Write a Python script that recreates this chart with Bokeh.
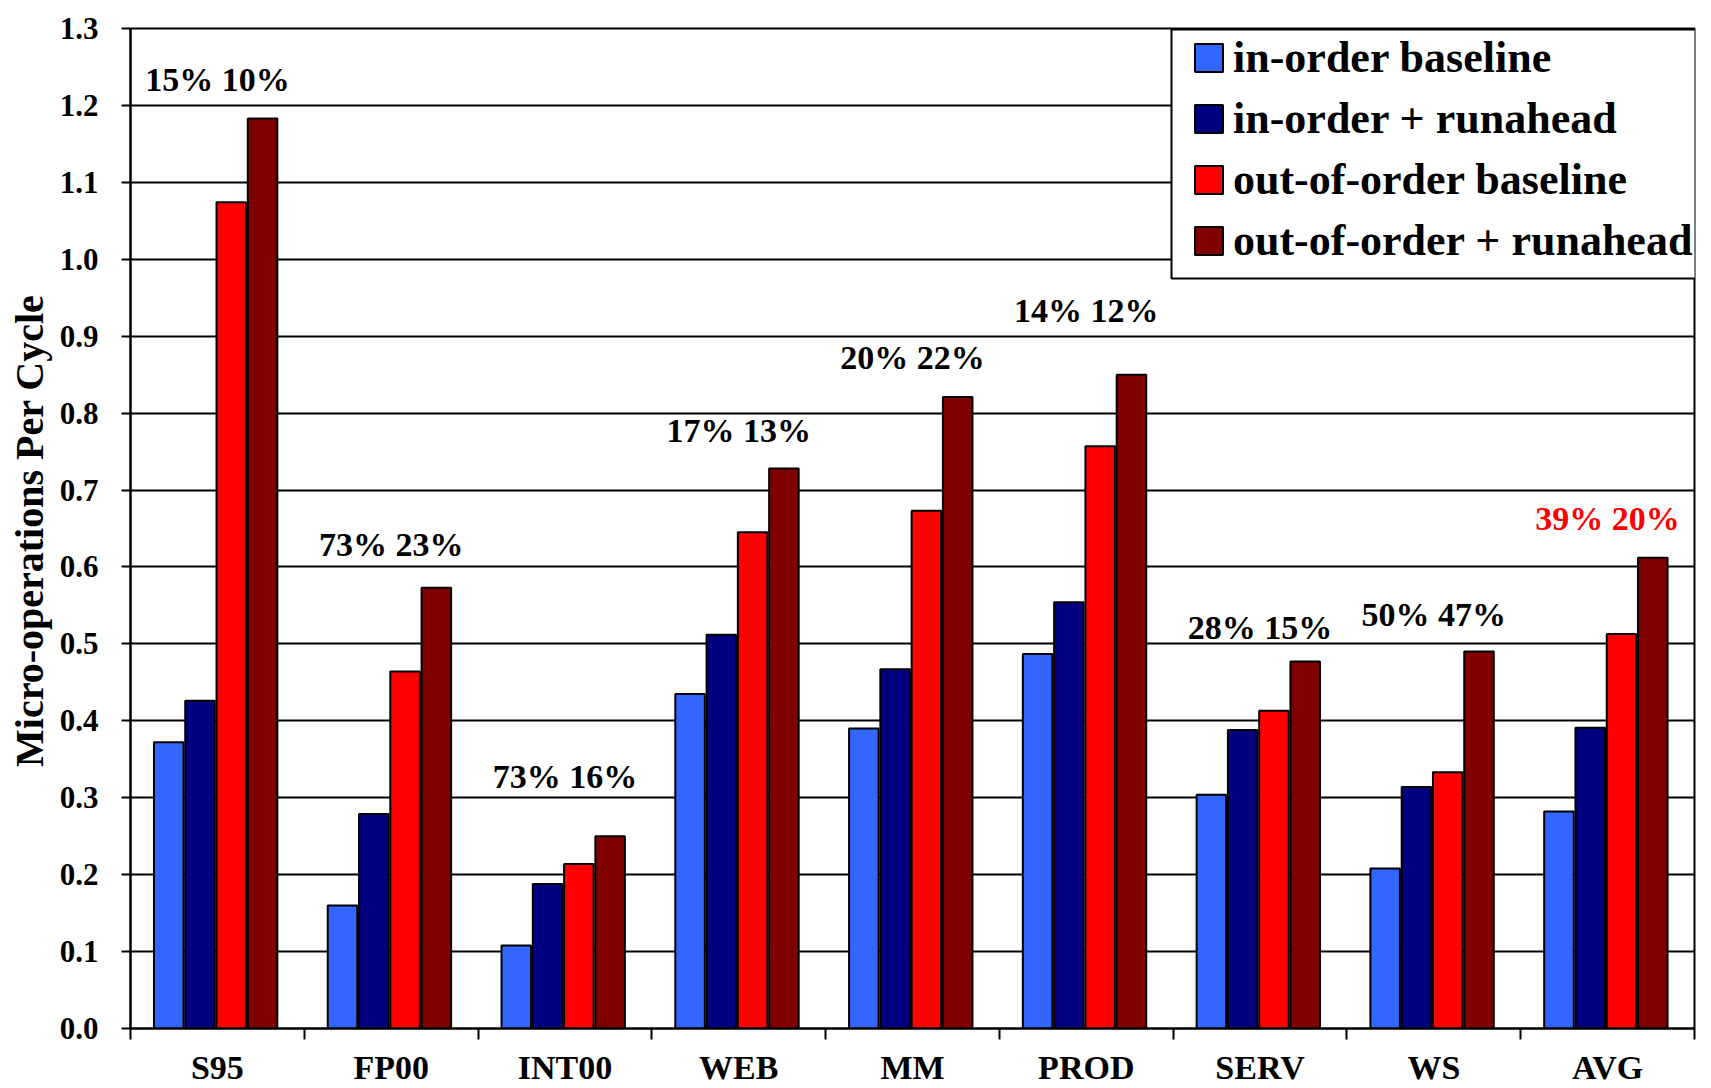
from bokeh.plotting import figure
from bokeh.models import (ColumnDataSource, Range1d, FixedTicker, NumeralTickFormatter,
                          Legend, LegendItem, LabelSet, BoxAnnotation, Title)
from bokeh.transform import dodge
from bokeh.embed import file_html
from bokeh.resources import INLINE
from bokeh.core.properties import value

# ---------------- data ----------------
categories = ["S95", "FP00", "INT00", "WEB", "MM", "PROD", "SERV", "WS", "AVG"]
series_names = ["in-order baseline", "in-order + runahead",
                "out-of-order baseline", "out-of-order + runahead"]
inorder_base = [0.372, 0.160, 0.108, 0.435, 0.390, 0.487, 0.304, 0.208, 0.282]
inorder_ra = [0.426, 0.279, 0.188, 0.512, 0.467, 0.554, 0.388, 0.314, 0.391]
ooo_base = [1.074, 0.464, 0.214, 0.645, 0.673, 0.757, 0.413, 0.333, 0.513]
ooo_ra = [1.183, 0.573, 0.250, 0.728, 0.821, 0.850, 0.477, 0.490, 0.612]
inorder_gain = ["15%", "73%", "73%", "17%", "20%", "14%", "28%", "50%", "39%"]
ooo_gain = ["10%", "23%", "16%", "13%", "22%", "12%", "15%", "47%", "20%"]
y_ticks = [0.0, 0.1, 0.2, 0.3, 0.4, 0.5, 0.6, 0.7, 0.8, 0.9, 1.0, 1.1, 1.2, 1.3]

# annotation placement (label baselines, in axis units) and colours
gain_label_y = [1.219, 0.614, 0.313, 0.762, 0.857, 0.918, 0.507, 0.523, 0.648]
gain_label_color = ["black"] * 8 + ["#FF0000"]
series_colors = ["#3366FF", "#000080", "#FF0000", "#800000"]
bar_offsets = [-0.28, -0.10, 0.08, 0.26]

FONT = "Liberation Serif"

idx = list(range(len(categories)))
src = ColumnDataSource(dict(x=idx, ib=inorder_base, ir=inorder_ra, ob=ooo_base, orr=ooo_ra))

p = figure(width=1711, height=1088,
           x_range=Range1d(-0.5, len(categories) - 0.5), y_range=Range1d(0, 1.3),
           output_backend="svg", toolbar_location=None,
           min_border_left=130, min_border_right=17, min_border_top=28, min_border_bottom=60)
p.background_fill_color = "white"
p.border_fill_color = "white"
p.outline_line_color = "black"
p.outline_line_width = 2
p.outline_line_alpha = 1

p.xgrid.visible = False
p.ygrid.ticker = FixedTicker(ticks=y_ticks)
p.ygrid.grid_line_color = "black"
p.ygrid.grid_line_width = 1.8
p.ygrid.grid_line_alpha = 1

# y axis
p.yaxis.ticker = FixedTicker(ticks=y_ticks)
p.yaxis.formatter = NumeralTickFormatter(format="0.0")
p.yaxis.major_label_text_font = FONT
p.yaxis.major_label_text_font_style = "bold"
p.yaxis.major_label_text_font_size = "31px"
p.yaxis.major_label_text_color = "black"
p.yaxis.major_tick_out = 9
p.yaxis.major_tick_in = 0
p.yaxis.minor_tick_out = 0
p.yaxis.minor_tick_in = 0
p.yaxis.major_tick_line_color = "black"
p.yaxis.major_tick_line_width = 2
p.yaxis.axis_line_color = "black"
p.yaxis.axis_line_width = 2
p.yaxis.major_label_standoff = 23

# x axis: labels at category centres, ticks at category boundaries
p.xaxis.ticker = FixedTicker(ticks=idx, minor_ticks=[i - 0.5 for i in range(len(categories) + 1)])
p.xaxis.major_label_overrides = {i: c for i, c in zip(idx, categories)}
p.xaxis.major_label_text_font = FONT
p.xaxis.major_label_text_font_style = "bold"
p.xaxis.major_label_text_font_size = "34px"
p.xaxis.major_label_text_color = "black"
p.xaxis.major_tick_out = 0
p.xaxis.major_tick_in = 0
p.xaxis.minor_tick_out = 11
p.xaxis.minor_tick_in = 0
p.xaxis.minor_tick_line_color = "black"
p.xaxis.minor_tick_line_width = 2
p.xaxis.axis_line_color = "black"
p.xaxis.axis_line_width = 2
p.xaxis.major_label_standoff = 9

# y axis title (placed towards the top like the original)
p.add_layout(Title(text="Micro-operations Per Cycle", align="right", offset=266,
                   vertical_align="top", standoff=6,
                   text_font=FONT, text_font_style="bold", text_font_size="40px",
                   text_color="black"), "left")

# bars
cols = ["ib", "ir", "ob", "orr"]
renderers = []
for col, color, off in zip(cols, series_colors, bar_offsets):
    r = p.vbar(x=dodge("x", off, range=p.x_range), top=col, width=0.17, source=src,
               fill_color=color, line_color="black", line_width=2)
    renderers.append(r)

# percentage annotations
lab_src = ColumnDataSource(dict(
    x=idx, y=gain_label_y,
    text=[f"{a} {b}" for a, b in zip(inorder_gain, ooo_gain)],
    color=gain_label_color))
p.add_layout(LabelSet(x="x", y="y", text="text", source=lab_src, text_color="color",
                      text_align="center", text_baseline="alphabetic",
                      text_font=value(FONT), text_font_style="bold", text_font_size="34px"))

# legend frame
p.add_layout(BoxAnnotation(left=1041, right=1700, top=999, bottom=750,
                           left_units="screen", right_units="screen",
                           top_units="screen", bottom_units="screen",
                           fill_color="white", fill_alpha=1,
                           line_color="black", line_width=2, line_alpha=1))

legend = Legend(items=[LegendItem(label=n, renderers=[r]) for n, r in zip(series_names, renderers)],
                location=(1061, 757), padding=0, spacing=0, margin=0,
                label_height=61, glyph_width=35, glyph_height=35, label_standoff=7,
                border_line_color=None, background_fill_alpha=0,
                label_text_font=FONT, label_text_font_style="bold",
                label_text_font_size="44px", label_text_color="black")
p.add_layout(legend)

open("out.html", "w").write(file_html(p, INLINE))
